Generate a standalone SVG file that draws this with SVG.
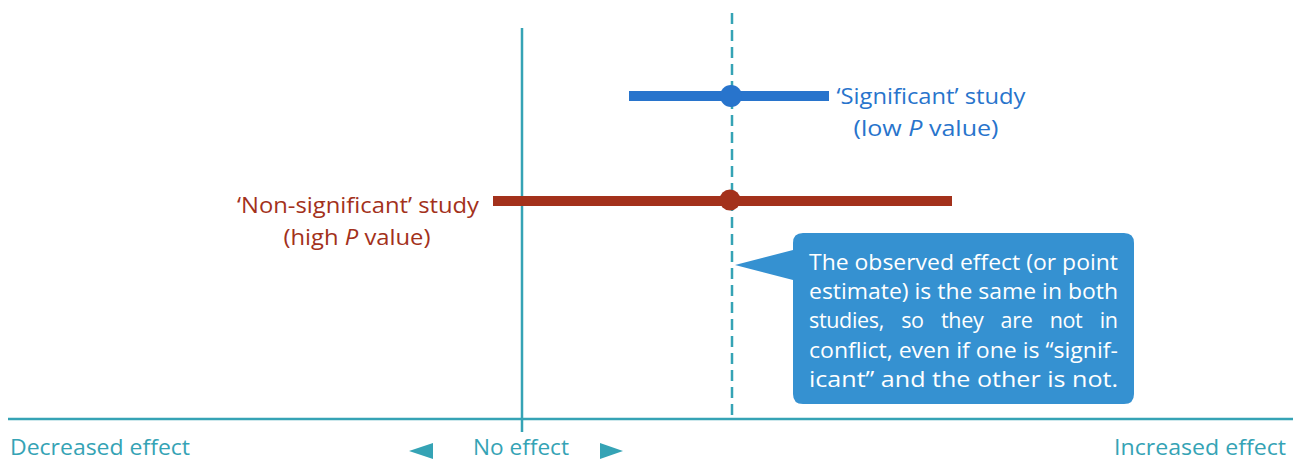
<svg xmlns="http://www.w3.org/2000/svg" width="1296" height="459" viewBox="0 0 1296 459">
<style>
.teal{stroke:#35a3b5;fill:none}
.ax{fill:#35a3b5;font-family:"Open Sans","Liberation Sans",sans-serif;font-size:22px}
.lbl{font-family:"Open Sans","Liberation Sans",sans-serif;font-size:22px}
.call{fill:#ffffff;font-family:"Open Sans","Liberation Sans",sans-serif;font-size:21.5px}
</style>
<rect width="1296" height="459" fill="#ffffff"/>
<g id="connectors">
<line class="teal" x1="8" y1="419" x2="1293" y2="419" stroke-width="2.5"/>
<line class="teal" x1="522" y1="28" x2="522" y2="432" stroke-width="2.5"/>
<line class="teal" x1="732" y1="13" x2="732" y2="418" stroke-width="2.5" stroke-dasharray="11,6"/>
</g>
<g id="significant">
<line x1="629" y1="96" x2="829" y2="96" stroke="#2874cc" stroke-width="10"/>
<circle cx="731" cy="96" r="11" fill="#2874cc"/>
<text class="lbl" fill="#2874cc" x="931" y="104" text-anchor="middle" textLength="189" lengthAdjust="spacingAndGlyphs">‘Significant’ study</text>
<text class="lbl" fill="#2874cc" x="926" y="136" text-anchor="middle" textLength="145" lengthAdjust="spacingAndGlyphs">(low <tspan font-style="italic">P</tspan> value)</text>
</g>
<g id="nonsignificant">
<line x1="493" y1="201" x2="952" y2="201" stroke="#a3311b" stroke-width="10"/>
<circle cx="730" cy="200" r="10.5" fill="#a3311b"/>
<text class="lbl" fill="#a3311b" x="358" y="213" text-anchor="middle" textLength="242" lengthAdjust="spacingAndGlyphs">‘Non-significant’ study</text>
<text class="lbl" fill="#a3311b" x="357" y="245" text-anchor="middle" textLength="147" lengthAdjust="spacingAndGlyphs">(high <tspan font-style="italic">P</tspan> value)</text>
</g>
<g id="callout">
<path d="M803,233 H1124 Q1134,233 1134,243 V394 Q1134,404 1124,404 H803 Q793,404 793,394 V280 L735,265 L793,250 V243 Q793,233 803,233 Z" fill="#3591d1"/>
<text class="call" x="809" y="270" textLength="309" lengthAdjust="spacingAndGlyphs">The observed effect (or point</text>
<text class="call" x="809" y="299" textLength="309" lengthAdjust="spacingAndGlyphs">estimate) is the same in both</text>
<text class="call" x="809" y="328" textLength="309" lengthAdjust="spacing" word-spacing="12">studies, so they are not in</text>
<text class="call" x="809" y="358" textLength="309" lengthAdjust="spacingAndGlyphs">conflict, even if one is “signif-</text>
<text class="call" x="809" y="387" textLength="309" lengthAdjust="spacingAndGlyphs">icant” and the other is not.</text>
</g>
<g id="axis-labels">
<text class="ax" x="10" y="455" textLength="180" lengthAdjust="spacingAndGlyphs">Decreased effect</text>
<text class="ax" x="521" y="455" text-anchor="middle" textLength="96" lengthAdjust="spacingAndGlyphs">No effect</text>
<text class="ax" x="1286" y="455" text-anchor="end" textLength="172" lengthAdjust="spacingAndGlyphs">Increased effect</text>
<path d="M409,451 L433,443 L433,459 Z" fill="#35a3b5"/>
<path d="M623,451 L600,443 L600,459 Z" fill="#35a3b5"/>
</g>
</svg>
